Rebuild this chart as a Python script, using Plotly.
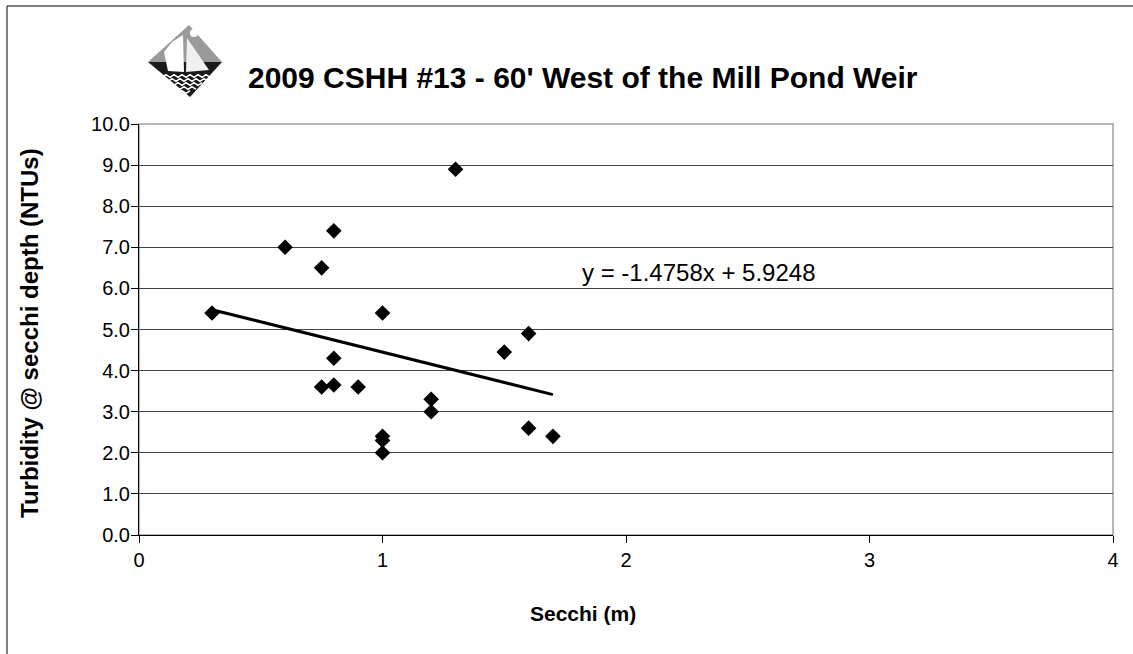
import plotly.graph_objects as go

# Secchi depth (m) vs turbidity at secchi depth (NTUs)
secchi_m = [0.3, 0.6, 0.75, 0.75, 0.8, 0.8, 0.8, 0.9, 1.0, 1.0, 1.0, 1.0,
            1.2, 1.2, 1.3, 1.5, 1.6, 1.6, 1.7]
turbidity_ntu = [5.4, 7.0, 6.5, 3.6, 7.4, 4.3, 3.65, 3.6, 5.4, 2.4, 2.3, 2.0,
                 3.3, 3.0, 8.9, 4.45, 4.9, 2.6, 2.4]

slope = -1.4758
intercept = 5.9248

title_text = "2009 CSHH #13 - 60' West of the Mill Pond Weir"
x_title = "Secchi (m)"
y_title = "Turbidity @ secchi depth (NTUs)"
y_ticks = [0, 1, 2, 3, 4, 5, 6, 7, 8, 9, 10]
x_ticks = [0, 1, 2, 3, 4]

W, H = 1133, 654
L, R, T, B = 139, 20, 124, 119
PW, PH = W - L - R, H - T - B
FONT = "Arial, Liberation Sans, sans-serif"


def px(x):
    # window pixel -> paper fraction
    return (x - L) / PW


def py(y):
    return (H - B - y) / PH


def path(points, close=True):
    d = "M " + " L ".join(f"{px(a):.5f},{py(b):.5f}" for a, b in points)
    return d + (" Z" if close else "")


fig = go.Figure()

fig.add_trace(go.Scatter(
    x=secchi_m, y=turbidity_ntu, mode="markers",
    marker={"symbol": "diamond", "size": 12, "color": "black"},
    showlegend=False,
))

x_lo, x_hi = min(secchi_m), max(secchi_m)
fig.add_trace(go.Scatter(
    x=[x_lo, x_hi], y=[slope * x_lo + intercept, slope * x_hi + intercept],
    mode="lines", line={"color": "black", "width": 3}, showlegend=False,
))

fig.add_annotation(
    x=px(699), y=py(272), xref="paper", yref="paper", showarrow=False,
    text=f"y = {slope}x + {intercept}",
    font={"size": 24, "color": "black", "family": FONT},
)

fig.add_annotation(
    x=px(583), y=py(78), xref="paper", yref="paper", showarrow=False,
    text=f"<b>{title_text}</b>", xanchor="center", yanchor="middle",
    font={"size": 30, "color": "black", "family": FONT},
)

fig.add_annotation(
    x=px(29), y=py(333), xref="paper", yref="paper", showarrow=False,
    text=f"<b>{y_title}</b>", textangle=-90, xanchor="center", yanchor="middle",
    font={"size": 24, "color": "black", "family": FONT},
)
fig.add_annotation(
    x=px(583), y=py(613), xref="paper", yref="paper", showarrow=False,
    text=f"<b>{x_title}</b>", xanchor="center", yanchor="middle",
    font={"size": 21, "color": "black", "family": FONT},
)

# logo: diamond with sail and waves
shapes = [
    {"type": "path", "path": path([(189, 25), (222, 62), (148, 62)]),
     "fillcolor": "#9a9a9a", "line": {"width": 0}},
    {"type": "path", "path": path([(148, 62), (222, 62), (190, 97)]),
     "fillcolor": "#1a1a1a", "line": {"width": 0}},
    {"type": "circle", "x0": px(190), "x1": px(198), "y0": py(37), "y1": py(29),
     "fillcolor": "white", "line": {"width": 0}},
    {"type": "path", "path": path([(164, 52), (172, 42), (183, 35), (184, 72), (168, 71)]),
     "fillcolor": "white", "line": {"width": 0}},
    {"type": "path", "path": path([(187, 38), (209, 70), (186, 72)]),
     "fillcolor": "#f0f0f0", "line": {"width": 0}},
]
for i, yy in enumerate([76, 80, 84, 88, 92]):
    half = 28 - 6 * i
    xs = list(range(186 - half, 186 + half + 1, 4))
    pts = [(x, yy + (1.3 if k % 2 else -1.3)) for k, x in enumerate(xs)]
    shapes.append({"type": "path", "path": path(pts, close=False),
                   "line": {"color": "white", "width": 1.6}})
for s in shapes:
    s.update(xref="paper", yref="paper", layer="above")

# outer chart frame
shapes.append({"type": "rect", "xref": "paper", "yref": "paper",
               "x0": px(7), "x1": px(1145), "y0": py(6), "y1": py(665),
               "line": {"color": "black", "width": 1}})
# plot area border
shapes.append({"type": "rect", "xref": "paper", "yref": "paper",
               "x0": 0, "x1": 1, "y0": 0, "y1": 1,
               "line": {"color": "#a0a0a0", "width": 1.5}, "layer": "below"})

fig.update_xaxes(
    range=[0, 4], tickvals=x_ticks, showgrid=False, zeroline=False,
    showline=True, linecolor="black", linewidth=1,
    ticks="outside", ticklen=7, tickcolor="black",
    tickfont={"size": 20, "color": "black", "family": FONT},
)
fig.update_yaxes(
    range=[0, 10], tickvals=y_ticks, tickformat=".1f",
    showgrid=True, gridcolor="#444444", gridwidth=1, zeroline=False,
    showline=True, linecolor="black", linewidth=1,
    ticks="outside", ticklen=7, tickcolor="black", ticklabelstandoff=-3,
    tickfont={"size": 20, "color": "black", "family": FONT},
)
fig.update_layout(
    width=W, height=H,
    margin={"l": L, "r": R, "t": T, "b": B},
    paper_bgcolor="white", plot_bgcolor="white",
    shapes=shapes, showlegend=False,
    font={"family": FONT, "color": "black"},
)
# drop the browser's default body margin so the figure starts at the window corner
fig.write_html(
    "out.html",
    config={"displayModeBar": False},
    post_script="document.body.style.margin = '0';",
)
